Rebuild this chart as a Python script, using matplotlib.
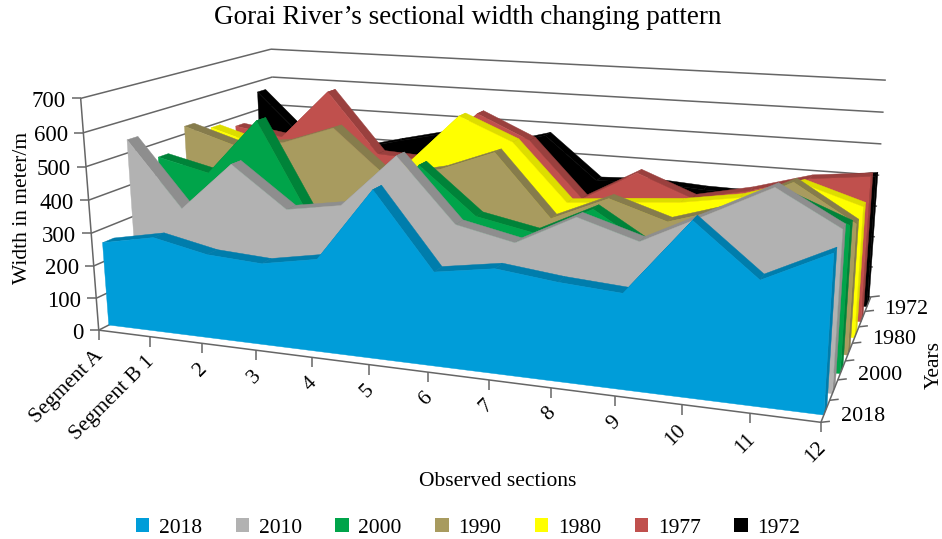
import numpy as np
import matplotlib
matplotlib.use("Agg")
import matplotlib.pyplot as plt
from matplotlib.patches import Patch

plt.rcParams['font.family'] = ['Liberation Serif', 'DejaVu Serif']

# chart data, widths in metres, front series first
sections = ["Segment A", "Segment B 1", "2", "3", "4", "5", "6", "7", "8", "9", "10", "11", "12"]
years = ["2018", "2010", "2000", "1990", "1980", "1977", "1972"]
width_2018 = [258, 290, 255, 245, 275, 490, 273, 300, 280, 268, 480, 340, 428]
width_2010 = [540, 340, 490, 367, 394, 553, 368, 331, 420, 367, 455, 545, 449]
width_2000 = [455, 417, 593, 290, 260, 494, 354, 320, 405, 300, 400, 490, 420]
width_1990 = [525, 475, 495, 553, 411, 448, 513, 324, 400, 345, 400, 490, 385]
width_1980 = [492, 444, 400, 380, 420, 585, 514, 336, 352, 366, 395, 452, 397]
width_1977 = [469, 443, 607, 409, 400, 566, 490, 313, 410, 343, 381, 432, 452]
width_1972 = [563, 406, 380, 422, 461, 430, 477, 338, 346, 335, 332, 394, 420]
all_widths = [width_2018, width_2010, width_2000, width_1990, width_1980, width_1977, width_1972]

z_ticks = [0, 100, 200, 300, 400, 500, 600, 700]
depth_labels = {0: "2018", 2: "2000", 4: "1980", 6: "1972"}

face_colors = ["#009DD9", "#B2B2B2", "#00A44A", "#A89B5F", "#FFFF00", "#C0504D", "#000000"]
top_colors = ["#007DAC", "#8E8E8E", "#008339", "#867C4C", "#DDDD00", "#9A403E", "#000000"]
axis_color = "#666666"

# box corners and floor ticks (section, depth, width) and where they sit in the picture
box_corners = [
    ((0, 0, 0), (98, 330)),
    ((0, 0, 700), (81.7, 100)),
    ((0, 7, 0), (280.5, 239)),
    ((0, 7, 700), (270, 48)),
    ((12, 7, 0), (870, 298)),
    ((12, 7, 700), (886, 80)),
    ((12, 0, 0), (822, 422)),
    ((1, 0, 0), (149.3, 336.5)),
    ((3, 0, 0), (256, 350)),
    ((10, 0, 0), (682, 404)),
    ((11, 0, 0), (750, 413)),
]


def fit_camera(corners):
    """Least squares fit of a perspective camera to the box corners."""
    rows = []
    rhs = []
    for (x, d, z), (u, v) in corners:
        z = z / 100
        rows.append([x, d, z, 1, 0, 0, 0, 0, -u * x, -u * d, -u * z])
        rows.append([0, 0, 0, 0, x, d, z, 1, -v * x, -v * d, -v * z])
        rhs += [u, v]
    p = np.linalg.lstsq(np.array(rows, float), np.array(rhs, float), rcond=None)[0]
    return np.append(p, 1).reshape(3, 4)


camera = fit_camera(box_corners)


def project(x, d, z):
    xyz = np.array([x, d, z / 100, 1.0])
    u, v, w = camera @ xyz
    return u / w, v / w


def draw_quad(ax, points, color, zorder):
    xy = [project(*p) for p in points]
    ax.fill([q[0] for q in xy], [q[1] for q in xy], color=color, lw=0.3, zorder=zorder)


def draw_line(ax, a, b, zorder=1, lw=1.1):
    ax.plot([a[0], b[0]], [a[1], b[1]], color=axis_color, lw=lw, zorder=zorder,
            solid_capstyle="butt")


fig = plt.figure(figsize=(9.42, 5.39), dpi=100)
ax = fig.add_axes([0, 0, 1, 1])
ax.set_xlim(0, 942)
ax.set_ylim(539, 0)
ax.axis("off")

# gridlines on the side and back walls, with the width axis ticks
for z in z_ticks:
    draw_line(ax, project(0, 0, z), project(0, 7, z))
    draw_line(ax, project(0, 7, z), project(12, 7, z))
    u, v = project(0, 0, z)
    draw_line(ax, (u - 9, v), (u, v), zorder=1)
    ax.text(u - 15, v + 3, str(z), ha="right", va="center", fontsize=16.5, color="black")
draw_line(ax, project(0, 0, 0), project(0, 0, 700))

# slabs, back to front
front_gap = 0.32
thickness = 0.36
for i in range(len(all_widths) - 1, -1, -1):
    values = all_widths[i]
    f = i + front_gap
    b = f + thickness
    zo = 10 + (len(all_widths) - i) * 3
    last = len(values) - 1
    draw_quad(ax, [(last, f, 0), (last, b, 0), (last, b, values[last]), (last, f, values[last])],
              top_colors[i], zo)
    for k in range(last):
        draw_quad(ax, [(k, f, values[k]), (k + 1, f, values[k + 1]),
                       (k + 1, b, values[k + 1]), (k, b, values[k])], top_colors[i], zo + 1)
    front = [(k, f, values[k]) for k in range(last + 1)] + [(last, f, 0), (0, f, 0)]
    draw_quad(ax, front, face_colors[i], zo + 2)

# section axis along the floor
draw_line(ax, project(0, 0, 0), project(12, 0, 0), zorder=5)
for k, name in enumerate(sections):
    u, v = project(k, 0, 0)
    draw_line(ax, (u, v), (u, v + 10), zorder=5)
    ax.text(u - 5, v + 16, name, rotation=45, ha="right", va="top",
            rotation_mode="anchor", fontsize=15.5, color="black")

# year axis on the right of the floor
draw_line(ax, project(12, 0, 0), project(12, 7, 0), zorder=40)
for d in range(8):
    u, v = project(12, d, 0)
    draw_line(ax, (u, v), (u + 9, v - 1), zorder=40)
for d, name in depth_labels.items():
    u, v = project(12, d + 0.5, 0)
    ax.text(u + 16, v + 5, name, ha="left", va="center", fontsize=15.8, color="black")

ax.text(468, 17, "Gorai River\u2019s sectional width changing pattern", ha="center",
        va="center", fontsize=19.5)
ax.text(23, 208, "Width in meter/m", rotation=90, ha="center", va="center", fontsize=15.5)
ax.text(498, 481, "Observed sections", ha="center", va="center", fontsize=15.5)
ax.text(934, 365, "Years", rotation=90, ha="center", va="center", fontsize=15.5)

handles = [Patch(facecolor=c, edgecolor="none") for c in face_colors]
ax.legend(handles, years, ncol=7, loc="center", bbox_to_anchor=(468 / 942, 1 - 528 / 539),
          frameon=False, fontsize=15.5, handlelength=0.62, handleheight=0.62,
          columnspacing=1.56, handletextpad=0.45)

fig.savefig("out.png", dpi=100)
